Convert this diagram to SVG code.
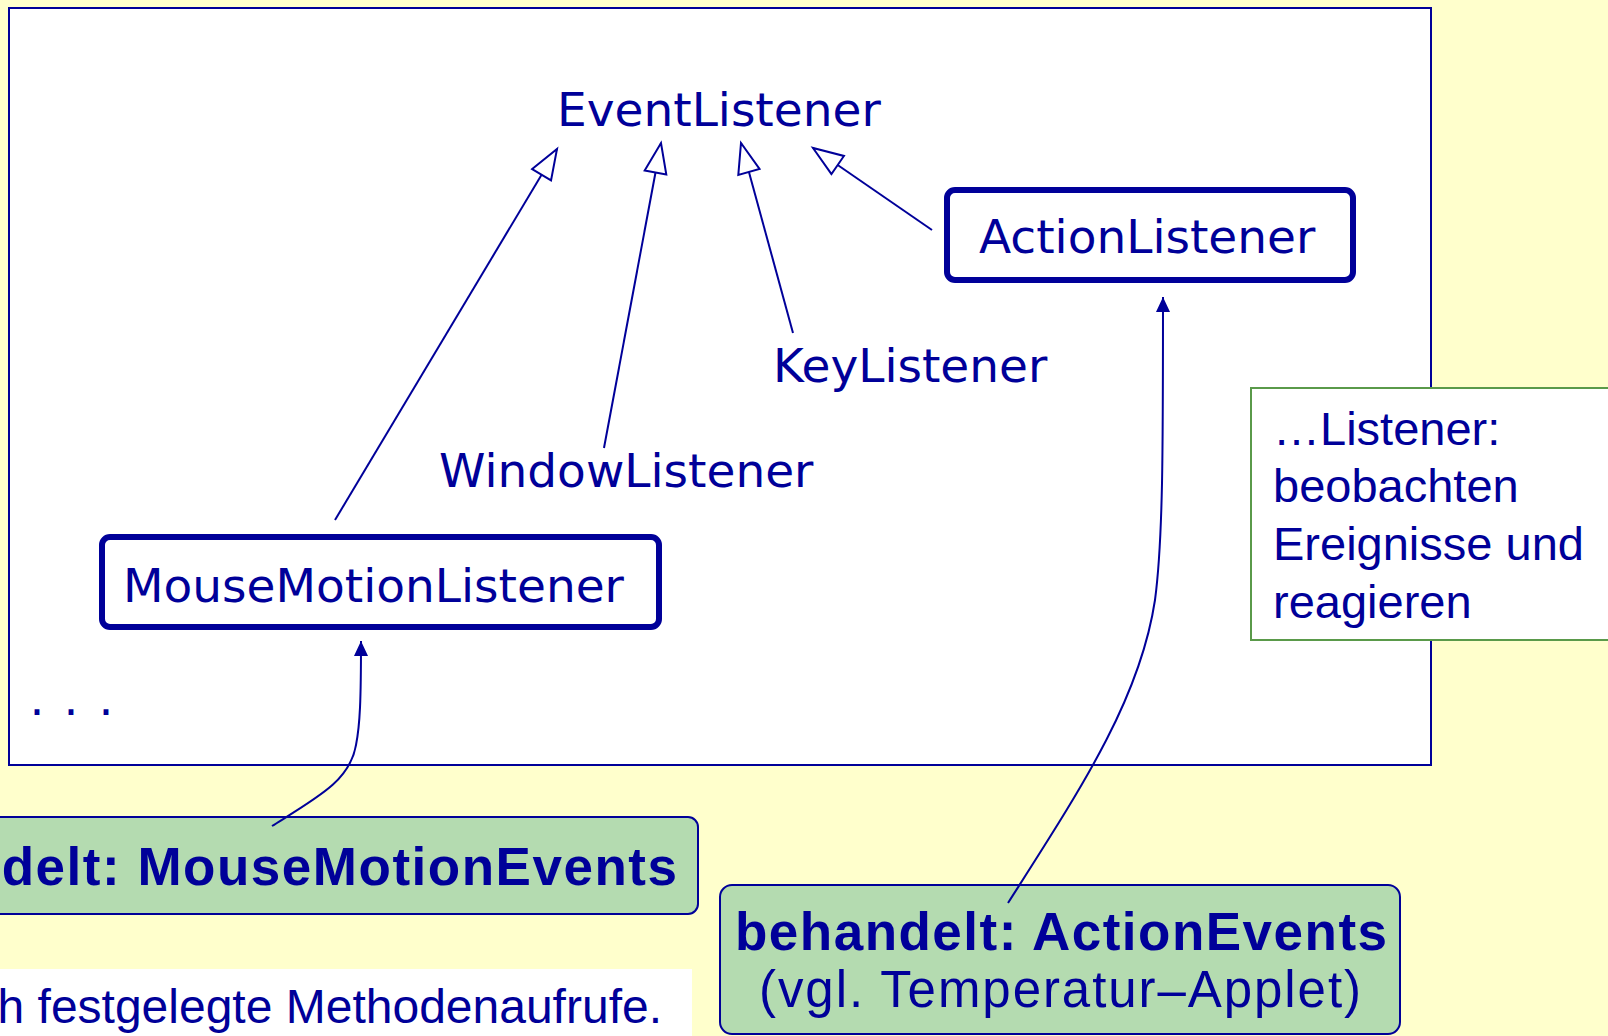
<svg xmlns="http://www.w3.org/2000/svg" width="1608" height="1036" viewBox="0 0 1608 1036">
<style>
.dv{font-family:"DejaVu Sans",sans-serif;font-size:47px;fill:#000099}
.ar{font-family:"Liberation Sans",Arial,sans-serif;font-size:47px;fill:#000099}
.arn{font-family:"Liberation Sans",Arial,sans-serif;font-size:51px;fill:#000099}
.arb{font-family:"Liberation Sans",Arial,sans-serif;font-size:53px;font-weight:bold;fill:#000099}
.node{fill:#ffffff;stroke:#000099;stroke-width:6}
.green{fill:#b4dbb0;stroke:#000099;stroke-width:2}
.conn{fill:none;stroke:#000099;stroke-width:2}
</style>
<defs>
<marker id="hollow" markerUnits="userSpaceOnUse" markerWidth="36" markerHeight="28" refX="32" refY="14" orient="auto">
<path d="M2,3 L32,14 L2,25 Z" fill="#ffffff" stroke="#000099" stroke-width="2"/>
</marker>
<marker id="filled" markerUnits="userSpaceOnUse" markerWidth="16" markerHeight="16" refX="15" refY="7" orient="auto">
<path d="M0,0 L15,7 L0,14 Z" fill="#000099"/>
</marker>
</defs>
<rect x="0" y="0" width="1608" height="1036" fill="#ffffcc"/>
<rect id="frame" x="9" y="8" width="1422" height="757" fill="#ffffff" stroke="#000099" stroke-width="2"/>

<g id="EventListener"><text class="dv" x="557" y="126">EventListener</text></g>
<g id="ActionListener">
<rect class="node" x="947" y="190" width="406" height="90" rx="8"/>
<text class="dv" x="979" y="253">ActionListener</text>
</g>
<g id="KeyListener"><text class="dv" x="773" y="382">KeyListener</text></g>
<g id="WindowListener"><text class="dv" x="439" y="487">WindowListener</text></g>
<g id="MouseMotionListener">
<rect class="node" x="102" y="537" width="557" height="90" rx="8"/>
<text class="dv" x="123" y="602">MouseMotionListener</text>
</g>
<g id="more"><text class="dv" x="29.5 63.5 98.5" y="715">...</text></g>

<g id="note">
<rect x="1251" y="388" width="380" height="252" fill="#ffffff" stroke="#5a9a4a" stroke-width="2"/>
<text class="ar" x="1273" y="445">…Listener:</text>
<text class="ar" x="1273" y="502">beobachten</text>
<text class="ar" x="1273" y="560">Ereignisse und</text>
<text class="ar" x="1273" y="618">reagieren</text>
</g>

<g id="MouseMotionEvents">
<rect class="green" x="-300" y="817" width="998" height="97" rx="10"/>
<text class="arb" x="677" y="885" text-anchor="end" textLength="839" lengthAdjust="spacing">behandelt: MouseMotionEvents</text>
</g>

<g id="ActionEvents">
<rect class="green" x="720" y="885" width="680" height="149" rx="12"/>
<text class="arb" x="735" y="950" textLength="652" lengthAdjust="spacing">behandelt: ActionEvents</text>
<text class="arn" x="759" y="1007" textLength="602" lengthAdjust="spacing">(vgl. Temperatur–Applet)</text>
</g>

<g id="footer">
<rect x="0" y="969" width="692" height="67" fill="#ffffff"/>
<text class="ar" x="662" y="1023" text-anchor="end" style="font-size:48px">h festgelegte Methodenaufrufe.</text>
</g>

<g id="connectors">
<path class="conn" d="M335,520 L557,149" marker-end="url(#hollow)"/>
<path class="conn" d="M604,448 L661,143" marker-end="url(#hollow)"/>
<path class="conn" d="M793,333 L741,143" marker-end="url(#hollow)"/>
<path class="conn" d="M932,230 L813,148" marker-end="url(#hollow)"/>
<path class="conn" d="M272,826 C320,796 350,780 356,745 C360,725 361,700 361,641" marker-end="url(#filled)"/>
<path class="conn" d="M1008,903 C1080,790 1140,700 1155,600 C1163,540 1163,450 1163,297" marker-end="url(#filled)"/>
</g>
</svg>
